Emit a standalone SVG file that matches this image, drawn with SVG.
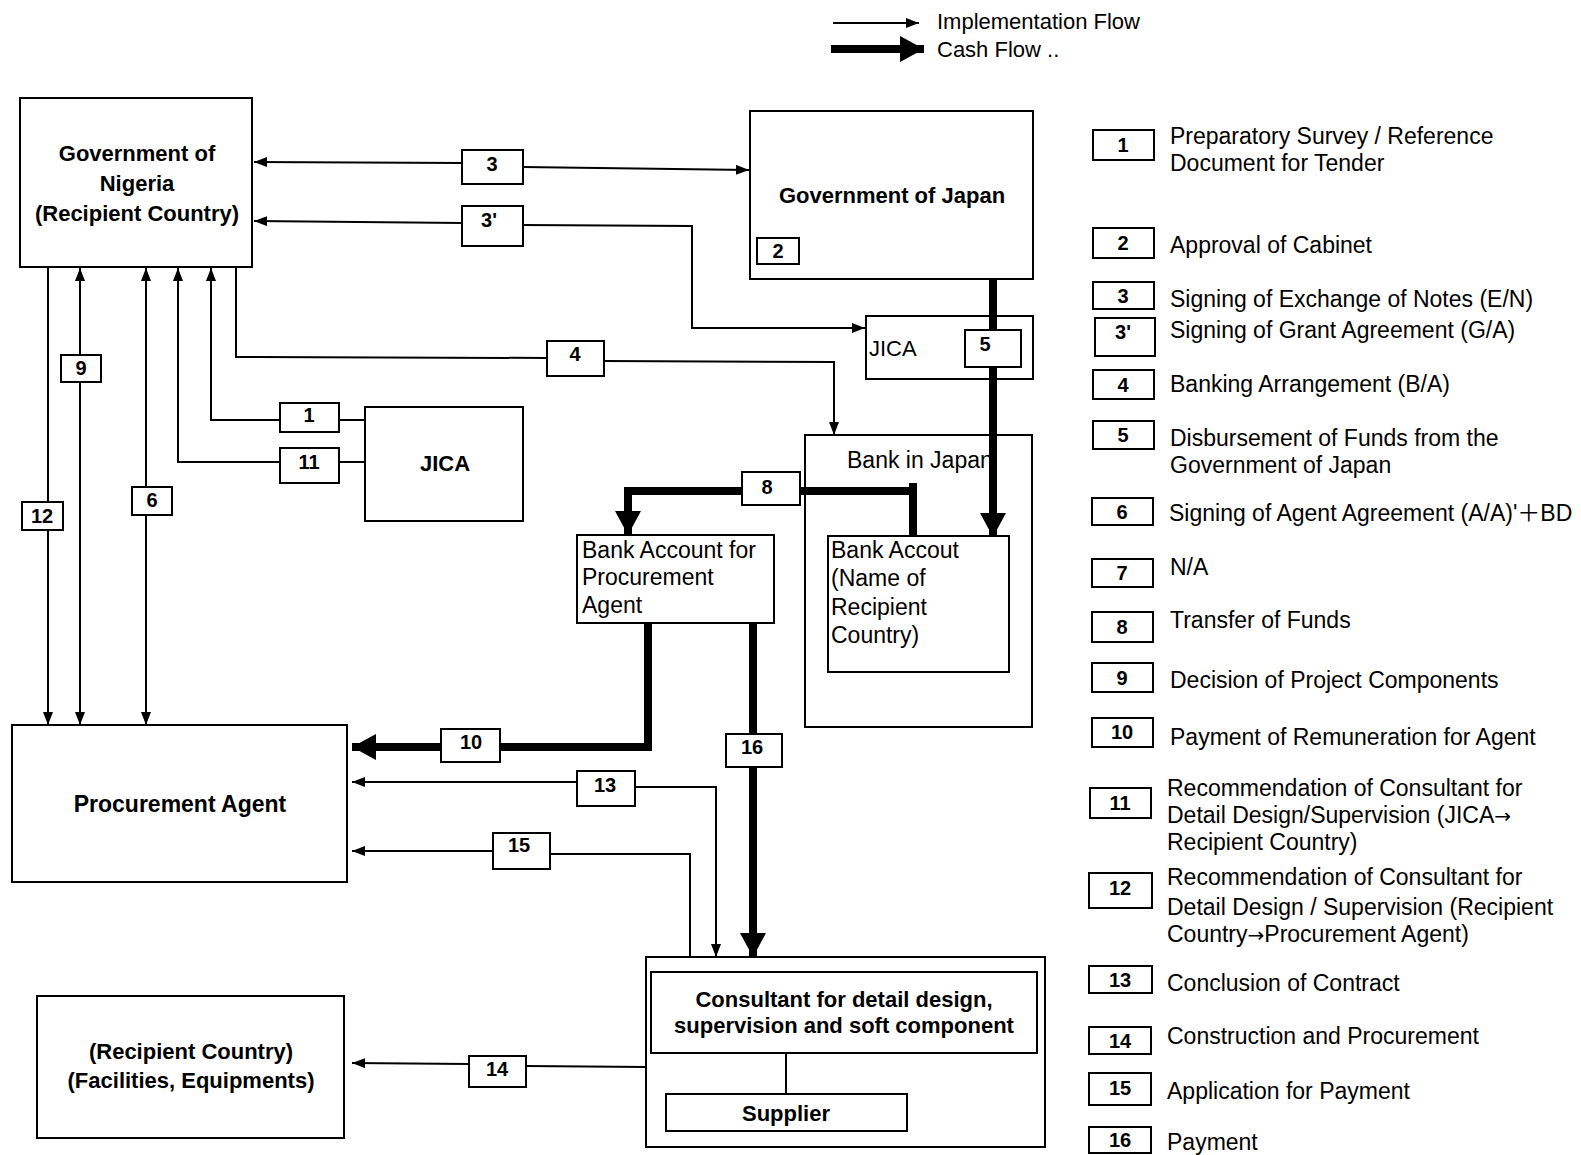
<svg xmlns="http://www.w3.org/2000/svg" width="1581" height="1155" viewBox="0 0 1581 1155">
<defs>
<style>
text{font-family:"Liberation Sans",Arial,sans-serif;fill:#000}
.b{font-weight:bold;font-size:22px}
.r{font-size:23px}
.lbl{font-weight:bold;font-size:20px;text-anchor:middle}
.c{text-anchor:middle}
.cjk{font-family:"Noto Sans CJK JP",sans-serif}
.arr{font-family:"DejaVu Sans",sans-serif;font-size:20px}
.box{fill:none;stroke:#000;stroke-width:2}
.lb{fill:#fff;stroke:#000;stroke-width:2}
.thin{fill:none;stroke:#000;stroke-width:2}
.thick{fill:none;stroke:#000;stroke-width:8}
</style>
<marker id="a" markerUnits="userSpaceOnUse" markerWidth="14" markerHeight="11" refX="13" refY="5" orient="auto"><path d="M0,0 L13,5 L0,10 z" fill="#000"/></marker>
<marker id="A" markerUnits="userSpaceOnUse" markerWidth="25" markerHeight="27" refX="24" refY="13" orient="auto"><path d="M0,0 L24,13 L0,26 z" fill="#000"/></marker>
</defs>
<rect width="1581" height="1155" fill="#fff"/>

<g id="legend-flow">
<path class="thin" d="M833,23 L919,23" marker-end="url(#a)"/>
<path class="thick" d="M831,49 L924,49" marker-end="url(#A)"/>
<text x="937" y="29" style="font-size:22px">Implementation Flow</text>
<text x="937" y="57" style="font-size:22px">Cash Flow ..</text>
</g>

<g id="nodes">
<g id="gov-nigeria"><rect class="box" x="20" y="98" width="232" height="169"/>
<text class="b c" x="137" y="161">Government of</text><text class="b c" x="137" y="191">Nigeria</text><text class="b c" x="137" y="221">(Recipient Country)</text></g>
<g id="gov-japan"><rect class="box" x="750" y="111" width="283" height="168"/>
<text class="b c" x="892" y="203">Government of Japan</text>
<rect class="box" x="757" y="238" width="42" height="26"/><text class="lbl" x="778" y="258">2</text></g>
<g id="jica-small"><rect class="box" x="866" y="316" width="167" height="63"/><text x="869" y="356" style="font-size:22px">JICA</text></g>
<g id="bank-japan"><rect class="box" x="805" y="435" width="227" height="292"/><text class="r" x="847" y="468">Bank in Japan</text></g>
<g id="bank-account-recipient"><rect class="box" x="828" y="536" width="181" height="136"/>
<text class="r" x="831" y="558">Bank Accout</text><text class="r" x="831" y="586">(Name of</text><text class="r" x="831" y="615">Recipient</text><text class="r" x="831" y="643">Country)</text></g>
<g id="bank-account-agent"><rect class="box" x="577" y="535" width="197" height="88"/>
<text class="r" x="582" y="558">Bank Account for</text><text class="r" x="582" y="585">Procurement</text><text class="r" x="582" y="613">Agent</text></g>
<g id="jica"><rect class="box" x="365" y="407" width="158" height="114"/><text class="b c" x="445" y="471">JICA</text></g>
<g id="procurement-agent"><rect class="box" x="12" y="725" width="335" height="157"/><text class="c" x="180" y="812" style="font-weight:bold;font-size:23px">Procurement Agent</text></g>
<g id="recipient-facilities"><rect class="box" x="37" y="996" width="307" height="142"/>
<text class="b c" x="191" y="1059">(Recipient Country)</text><text class="b c" x="191" y="1088">(Facilities, Equipments)</text></g>
<g id="consultant-group"><rect class="box" x="646" y="957" width="399" height="190"/>
<rect class="box" x="651" y="972" width="386" height="81"/>
<text class="b c" x="844" y="1007">Consultant for detail design,</text><text class="b c" x="844" y="1033">supervision and soft component</text>
<path class="thin" d="M786,1053 L786,1094"/>
<rect class="box" x="666" y="1094" width="241" height="37"/><text class="b c" x="786" y="1121">Supplier</text></g>
</g>

<g id="connectors">
<path class="thin" d="M462,163 L254,162" marker-end="url(#a)"/>
<path class="thin" d="M523,167 L749,170" marker-end="url(#a)"/>
<path class="thin" d="M462,223 L254,221" marker-end="url(#a)"/>
<path class="thin" d="M523,225 L692,226 L692,328 L865,328" marker-end="url(#a)"/>
<path class="thin" d="M236,267 L236,357 L547,358"/>
<path class="thin" d="M604,361 L834,362 L834,435" marker-end="url(#a)"/>
<path class="thin" d="M365,420 L339,420"/>
<path class="thin" d="M280,420 L211,420 L211,268" marker-end="url(#a)"/>
<path class="thin" d="M365,462 L339,462"/>
<path class="thin" d="M280,462 L178,462 L178,268" marker-end="url(#a)"/>
<path class="thin" d="M80,355 L80,268" marker-end="url(#a)"/>
<path class="thin" d="M80,382 L80,725" marker-end="url(#a)"/>
<path class="thin" d="M146,487 L146,268" marker-end="url(#a)"/>
<path class="thin" d="M146,515 L146,725" marker-end="url(#a)"/>
<path class="thin" d="M48,267 L48,502"/>
<path class="thin" d="M48,530 L48,725" marker-end="url(#a)"/>
<path class="thick" d="M993,279 L993,537" marker-end="url(#A)"/>
<path class="thick" d="M913,537 L913,483"/>
<path class="thick" d="M917,491 L800,491"/>
<path class="thick" d="M742,491 L628,491 L628,535" marker-end="url(#A)"/>
<path class="thick" d="M648,623 L648,747 L500,747"/>
<path class="thick" d="M441,747 L352,747" marker-end="url(#A)"/>
<path class="thick" d="M753,623 L753,734"/>
<path class="thick" d="M753,767 L753,957" marker-end="url(#A)"/>
<path class="thin" d="M635,787 L716,787 L716,957" marker-end="url(#a)"/>
<path class="thin" d="M577,782 L352,782" marker-end="url(#a)"/>
<path class="thin" d="M550,854 L690,854 L690,957"/>
<path class="thin" d="M493,851 L352,851" marker-end="url(#a)"/>
<path class="thin" d="M646,1067 L526,1066"/>
<path class="thin" d="M469,1064 L352,1063" marker-end="url(#a)"/>
<rect class="lb" x="462" y="150" width="61" height="34"/><text class="lbl" x="492" y="171">3</text>
<rect class="lb" x="462" y="206" width="61" height="40"/><text class="lbl" x="489" y="227">3'</text>
<rect class="lb" x="547" y="341" width="57" height="35"/><text class="lbl" x="575" y="361">4</text>
<rect class="lb" x="965" y="330" width="56" height="37"/><text class="lbl" x="985" y="351">5</text>
<rect class="lb" x="280" y="403" width="59" height="29"/><text class="lbl" x="309" y="422">1</text>
<rect class="lb" x="280" y="448" width="59" height="35"/><text class="lbl" x="309" y="469">11</text>
<rect class="lb" x="61" y="355" width="40" height="27"/><text class="lbl" x="81" y="375">9</text>
<rect class="lb" x="132" y="487" width="40" height="28"/><text class="lbl" x="152" y="507">6</text>
<rect class="lb" x="22" y="502" width="41" height="28"/><text class="lbl" x="42" y="523">12</text>
<rect class="lb" x="742" y="472" width="58" height="33"/><text class="lbl" x="767" y="494">8</text>
<rect class="lb" x="441" y="729" width="59" height="33"/><text class="lbl" x="471" y="749">10</text>
<rect class="lb" x="726" y="734" width="56" height="33"/><text class="lbl" x="752" y="754">16</text>
<rect class="lb" x="577" y="771" width="58" height="35"/><text class="lbl" x="605" y="792">13</text>
<rect class="lb" x="493" y="833" width="57" height="36"/><text class="lbl" x="519" y="852">15</text>
<rect class="lb" x="469" y="1056" width="57" height="31"/><text class="lbl" x="497" y="1076">14</text>
</g>

<g id="legend">
<rect class="lb" x="1093" y="130" width="61" height="30"/><text class="lbl" x="1123" y="152">1</text>
<text class="r" x="1170" y="144">Preparatory Survey / Reference</text><text class="r" x="1170" y="171">Document for Tender</text>
<rect class="lb" x="1093" y="228" width="61" height="30"/><text class="lbl" x="1123" y="250">2</text>
<text class="r" x="1170" y="253">Approval of Cabinet</text>
<rect class="lb" x="1093" y="282" width="61" height="27"/><text class="lbl" x="1123" y="303">3</text>
<text class="r" x="1170" y="307">Signing of Exchange of Notes (E/N)</text>
<rect class="lb" x="1095" y="318" width="60" height="38"/><text class="lbl" x="1123" y="339">3'</text>
<text class="r" x="1170" y="338">Signing of Grant Agreement (G/A)</text>
<rect class="lb" x="1093" y="370" width="61" height="29"/><text class="lbl" x="1123" y="392">4</text>
<text class="r" x="1170" y="392">Banking Arrangement (B/A)</text>
<rect class="lb" x="1093" y="421" width="61" height="28"/><text class="lbl" x="1123" y="442">5</text>
<text class="r" x="1170" y="446">Disbursement of Funds from the</text><text class="r" x="1170" y="473">Government of Japan</text>
<rect class="lb" x="1092" y="498" width="61" height="27"/><text class="lbl" x="1122" y="519">6</text>
<text class="r" x="1169" y="521">Signing of Agent Agreement (A/A)'<tspan class="cjk">＋</tspan>BD</text>
<rect class="lb" x="1092" y="559" width="61" height="28"/><text class="lbl" x="1122" y="580">7</text>
<text class="r" x="1170" y="575">N/A</text>
<rect class="lb" x="1092" y="612" width="61" height="30"/><text class="lbl" x="1122" y="634">8</text>
<text class="r" x="1170" y="628">Transfer of Funds</text>
<rect class="lb" x="1092" y="663" width="61" height="29"/><text class="lbl" x="1122" y="685">9</text>
<text class="r" x="1170" y="688">Decision of Project Components</text>
<rect class="lb" x="1092" y="718" width="61" height="29"/><text class="lbl" x="1122" y="739">10</text>
<text class="r" x="1170" y="745">Payment of Remuneration for Agent</text>
<rect class="lb" x="1090" y="788" width="61" height="30"/><text class="lbl" x="1120" y="810">11</text>
<text class="r" x="1167" y="796">Recommendation of Consultant for</text><text class="r" x="1167" y="823">Detail Design/Supervision  (JICA<tspan class="arr">→</tspan></text><text class="r" x="1167" y="850">Recipient Country)</text>
<rect class="lb" x="1089" y="873" width="63" height="35"/><text class="lbl" x="1120" y="895">12</text>
<text class="r" x="1167" y="885">Recommendation of Consultant for</text><text class="r" x="1167" y="915">Detail Design / Supervision (Recipient</text><text class="r" x="1167" y="942">Country<tspan class="arr">→</tspan>Procurement Agent)</text>
<rect class="lb" x="1089" y="966" width="63" height="27"/><text class="lbl" x="1120" y="987">13</text>
<text class="r" x="1167" y="991">Conclusion of Contract</text>
<rect class="lb" x="1089" y="1027" width="62" height="27"/><text class="lbl" x="1120" y="1048">14</text>
<text class="r" x="1167" y="1044">Construction and Procurement</text>
<rect class="lb" x="1089" y="1073" width="62" height="32"/><text class="lbl" x="1120" y="1095">15</text>
<text class="r" x="1167" y="1099">Application for Payment</text>
<rect class="lb" x="1089" y="1127" width="62" height="26"/><text class="lbl" x="1120" y="1147">16</text>
<text class="r" x="1167" y="1150">Payment</text>
</g>
</svg>
